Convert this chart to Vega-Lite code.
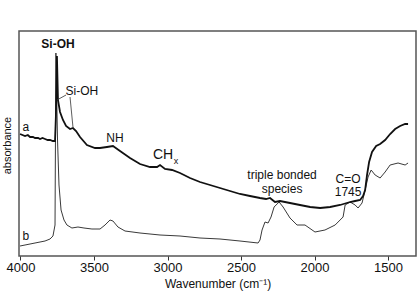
{
  "$schema": "https://vega.github.io/schema/vega-lite/v6.json",
  "width": 397,
  "height": 225,
  "autosize": {"type": "none"},
  "padding": {"left": 19, "top": 31, "right": 3, "bottom": 35},
  "background": "white",
  "config": {
    "view": {"stroke": "#555", "strokeWidth": 1.5},
    "font": "Liberation Sans",
    "text": {"font": "Liberation Sans", "color": "#111"}
  },
  "datasets": {
    "spectra": [
      {"series": "a", "wn": 4003, "abs": 122},
      {"series": "a", "wn": 3969, "abs": 120},
      {"series": "a", "wn": 3950, "abs": 121},
      {"series": "a", "wn": 3935, "abs": 119},
      {"series": "a", "wn": 3915, "abs": 119},
      {"series": "a", "wn": 3901, "abs": 118},
      {"series": "a", "wn": 3880, "abs": 118},
      {"series": "a", "wn": 3867, "abs": 117},
      {"series": "a", "wn": 3850, "abs": 118},
      {"series": "a", "wn": 3833, "abs": 117},
      {"series": "a", "wn": 3815, "abs": 116},
      {"series": "a", "wn": 3799, "abs": 116},
      {"series": "a", "wn": 3780, "abs": 115},
      {"series": "a", "wn": 3765, "abs": 115},
      {"series": "a", "wn": 3759, "abs": 140},
      {"series": "a", "wn": 3752, "abs": 200},
      {"series": "a", "wn": 3745, "abs": 156},
      {"series": "a", "wn": 3731, "abs": 144},
      {"series": "a", "wn": 3711, "abs": 136},
      {"series": "a", "wn": 3690, "abs": 130},
      {"series": "a", "wn": 3663, "abs": 127},
      {"series": "a", "wn": 3643, "abs": 128},
      {"series": "a", "wn": 3622, "abs": 125},
      {"series": "a", "wn": 3595, "abs": 119},
      {"series": "a", "wn": 3548, "abs": 111},
      {"series": "a", "wn": 3493, "abs": 108},
      {"series": "a", "wn": 3459, "abs": 108},
      {"series": "a", "wn": 3412, "abs": 109},
      {"series": "a", "wn": 3371, "abs": 110},
      {"series": "a", "wn": 3323, "abs": 105},
      {"series": "a", "wn": 3255, "abs": 98},
      {"series": "a", "wn": 3187, "abs": 92},
      {"series": "a", "wn": 3119, "abs": 89},
      {"series": "a", "wn": 3071, "abs": 89},
      {"series": "a", "wn": 3051, "abs": 91},
      {"series": "a", "wn": 3017, "abs": 87},
      {"series": "a", "wn": 2969, "abs": 86},
      {"series": "a", "wn": 2915, "abs": 83},
      {"series": "a", "wn": 2847, "abs": 78},
      {"series": "a", "wn": 2779, "abs": 74},
      {"series": "a", "wn": 2711, "abs": 71},
      {"series": "a", "wn": 2643, "abs": 68},
      {"series": "a", "wn": 2575, "abs": 65},
      {"series": "a", "wn": 2507, "abs": 62},
      {"series": "a", "wn": 2439, "abs": 60},
      {"series": "a", "wn": 2371, "abs": 58},
      {"series": "a", "wn": 2330, "abs": 57},
      {"series": "a", "wn": 2303, "abs": 58},
      {"series": "a", "wn": 2269, "abs": 54},
      {"series": "a", "wn": 2235, "abs": 55},
      {"series": "a", "wn": 2167, "abs": 53},
      {"series": "a", "wn": 2099, "abs": 51},
      {"series": "a", "wn": 2030, "abs": 49},
      {"series": "a", "wn": 1962, "abs": 48},
      {"series": "a", "wn": 1894, "abs": 49},
      {"series": "a", "wn": 1826, "abs": 51},
      {"series": "a", "wn": 1758, "abs": 54},
      {"series": "a", "wn": 1724, "abs": 55},
      {"series": "a", "wn": 1690, "abs": 56},
      {"series": "a", "wn": 1670, "abs": 60},
      {"series": "a", "wn": 1656, "abs": 66},
      {"series": "a", "wn": 1643, "abs": 81},
      {"series": "a", "wn": 1629, "abs": 94},
      {"series": "a", "wn": 1609, "abs": 104},
      {"series": "a", "wn": 1581, "abs": 110},
      {"series": "a", "wn": 1554, "abs": 112},
      {"series": "a", "wn": 1520, "abs": 116},
      {"series": "a", "wn": 1486, "abs": 122},
      {"series": "a", "wn": 1452, "abs": 127},
      {"series": "a", "wn": 1418, "abs": 130},
      {"series": "a", "wn": 1384, "abs": 132},
      {"series": "a", "wn": 1364, "abs": 132},
      {"series": "b", "wn": 4003, "abs": 10},
      {"series": "b", "wn": 3969, "abs": 11},
      {"series": "b", "wn": 3935, "abs": 12},
      {"series": "b", "wn": 3901, "abs": 13},
      {"series": "b", "wn": 3867, "abs": 14},
      {"series": "b", "wn": 3833, "abs": 15},
      {"series": "b", "wn": 3799, "abs": 17},
      {"series": "b", "wn": 3779, "abs": 20},
      {"series": "b", "wn": 3765, "abs": 31},
      {"series": "b", "wn": 3759, "abs": 203},
      {"series": "b", "wn": 3748, "abs": 116},
      {"series": "b", "wn": 3738, "abs": 71},
      {"series": "b", "wn": 3724, "abs": 46},
      {"series": "b", "wn": 3704, "abs": 36},
      {"series": "b", "wn": 3684, "abs": 31},
      {"series": "b", "wn": 3650, "abs": 28},
      {"series": "b", "wn": 3609, "abs": 29},
      {"series": "b", "wn": 3568, "abs": 28},
      {"series": "b", "wn": 3514, "abs": 27},
      {"series": "b", "wn": 3459, "abs": 27},
      {"series": "b", "wn": 3425, "abs": 31},
      {"series": "b", "wn": 3391, "abs": 36},
      {"series": "b", "wn": 3371, "abs": 35},
      {"series": "b", "wn": 3337, "abs": 29},
      {"series": "b", "wn": 3289, "abs": 25},
      {"series": "b", "wn": 3187, "abs": 23},
      {"series": "b", "wn": 3051, "abs": 21},
      {"series": "b", "wn": 2915, "abs": 20},
      {"series": "b", "wn": 2779, "abs": 18},
      {"series": "b", "wn": 2643, "abs": 17},
      {"series": "b", "wn": 2507, "abs": 15},
      {"series": "b", "wn": 2384, "abs": 13},
      {"series": "b", "wn": 2371, "abs": 16},
      {"series": "b", "wn": 2357, "abs": 26},
      {"series": "b", "wn": 2337, "abs": 34},
      {"series": "b", "wn": 2316, "abs": 33},
      {"series": "b", "wn": 2296, "abs": 39},
      {"series": "b", "wn": 2275, "abs": 49},
      {"series": "b", "wn": 2241, "abs": 54},
      {"series": "b", "wn": 2214, "abs": 49},
      {"series": "b", "wn": 2167, "abs": 38},
      {"series": "b", "wn": 2119, "abs": 31},
      {"series": "b", "wn": 2065, "abs": 31},
      {"series": "b", "wn": 1997, "abs": 24},
      {"series": "b", "wn": 1929, "abs": 26},
      {"series": "b", "wn": 1860, "abs": 31},
      {"series": "b", "wn": 1806, "abs": 39},
      {"series": "b", "wn": 1792, "abs": 51},
      {"series": "b", "wn": 1758, "abs": 54},
      {"series": "b", "wn": 1724, "abs": 51},
      {"series": "b", "wn": 1704, "abs": 48},
      {"series": "b", "wn": 1677, "abs": 53},
      {"series": "b", "wn": 1656, "abs": 66},
      {"series": "b", "wn": 1636, "abs": 79},
      {"series": "b", "wn": 1615, "abs": 86},
      {"series": "b", "wn": 1588, "abs": 81},
      {"series": "b", "wn": 1554, "abs": 78},
      {"series": "b", "wn": 1520, "abs": 84},
      {"series": "b", "wn": 1486, "abs": 91},
      {"series": "b", "wn": 1432, "abs": 93},
      {"series": "b", "wn": 1384, "abs": 91},
      {"series": "b", "wn": 1364, "abs": 93}
    ],
    "labels": [
      {"text": "a", "wn": 3963, "abs": 129},
      {"text": "b", "wn": 3963, "abs": 20},
      {"text": "Si-OH", "wn": 3582, "abs": 165},
      {"text": "NH", "wn": 3357, "abs": 118},
      {"text": "triple bonded", "wn": 2221, "abs": 81},
      {"text": "species", "wn": 2221, "abs": 67},
      {"text": "C=O", "wn": 1772, "abs": 77},
      {"text": "1745", "wn": 1772, "abs": 64}
    ],
    "bold": [{"text": "Si-OH", "wn": 3745, "abs": 212}],
    "ch": [{"text": "CH", "wn": 3030, "abs": 101}],
    "sub": [{"text": "x", "wn": 2942, "abs": 95}],
    "leaders": [
      {"wn": 3752, "abs": 156, "wn2": 3690, "abs2": 161},
      {"wn": 3663, "abs": 159, "wn2": 3643, "abs2": 129}
    ]
  },
  "encoding": {
    "x": {
      "field": "wn",
      "type": "quantitative",
      "scale": {"domain": [1310, 4010], "reverse": true, "nice": false, "zero": false},
      "axis": {
        "values": [4000, 3500, 3000, 2500, 2000, 1500],
        "format": "d",
        "grid": false,
        "domain": false,
        "tickSize": 4,
        "tickColor": "#333",
        "labelPadding": 1,
        "labelFontSize": 13,
        "labelColor": "#111",
        "labelFont": "Liberation Sans",
        "title": "Wavenumber (cm⁻¹)",
        "titleFont": "Liberation Sans",
        "titleFontSize": 12,
        "titleFontWeight": "normal",
        "titleColor": "#111",
        "titleBaseline": "alphabetic",
        "titleY": 31
      }
    },
    "y": {
      "field": "abs",
      "type": "quantitative",
      "scale": {"domain": [0, 225], "nice": false, "zero": false},
      "axis": {
        "labels": false,
        "ticks": false,
        "grid": false,
        "domain": false,
        "title": "absorbance",
        "titleFont": "Liberation Sans",
        "titleFontSize": 11,
        "titleFontWeight": "normal",
        "titleColor": "#111",
        "titleX": -12,
        "titleY": 114,
        "titleAngle": -90,
        "titleAlign": "center",
        "titleBaseline": "middle"
      }
    }
  },
  "layer": [
    {
      "data": {"name": "spectra"},
      "transform": [{"filter": "datum.series === 'b'"}],
      "mark": {"type": "line", "color": "#3a3a3a", "strokeWidth": 1, "interpolate": "linear"}
    },
    {
      "data": {"name": "spectra"},
      "transform": [{"filter": "datum.series === 'a'"}],
      "mark": {"type": "line", "color": "#111", "strokeWidth": 1.8, "interpolate": "linear"}
    },
    {
      "data": {"name": "leaders"},
      "mark": {"type": "rule", "color": "#333", "strokeWidth": 0.8},
      "encoding": {"x2": {"field": "wn2"}, "y2": {"field": "abs2"}}
    },
    {
      "data": {"name": "labels"},
      "mark": {"type": "text", "fontSize": 12, "align": "center", "baseline": "middle"},
      "encoding": {"text": {"field": "text"}}
    },
    {
      "data": {"name": "bold"},
      "mark": {"type": "text", "fontSize": 12, "fontWeight": "bold", "align": "center", "baseline": "middle"},
      "encoding": {"text": {"field": "text"}}
    },
    {
      "data": {"name": "ch"},
      "mark": {"type": "text", "fontSize": 14, "align": "center", "baseline": "middle"},
      "encoding": {"text": {"field": "text"}}
    },
    {
      "data": {"name": "sub"},
      "mark": {"type": "text", "fontSize": 9, "align": "center", "baseline": "middle"},
      "encoding": {"text": {"field": "text"}}
    }
  ]
}
